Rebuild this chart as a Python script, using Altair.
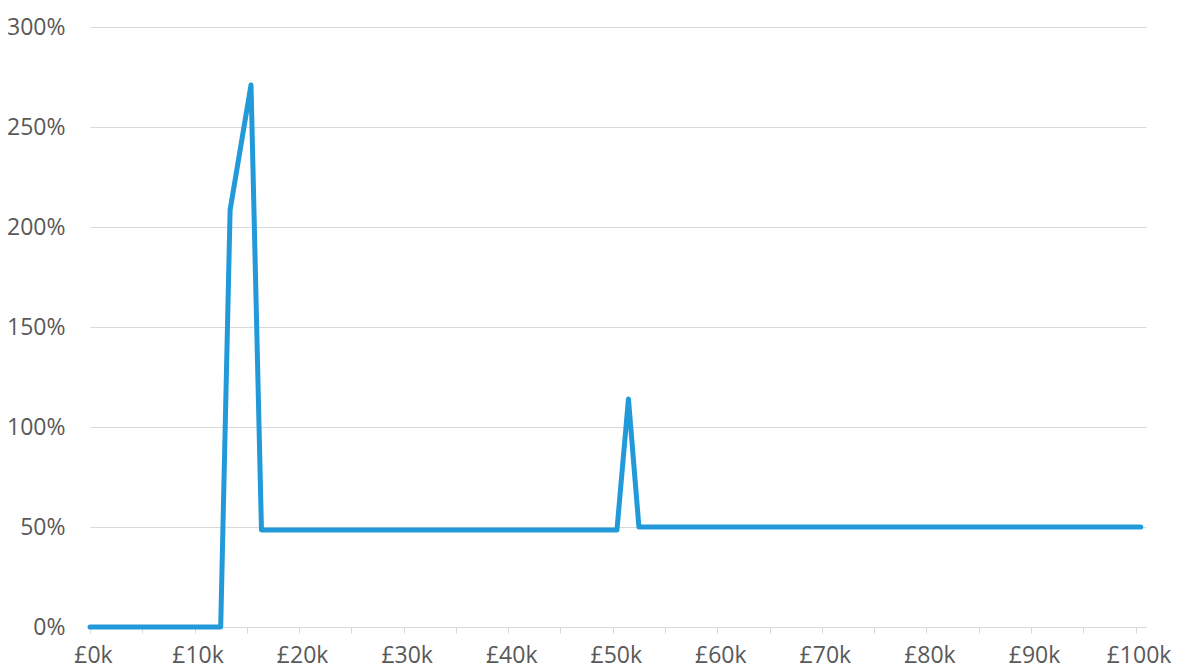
import altair as alt
import pandas as pd

# income (£k) and marginal effective rate (%)
income_k = [0, 12.5, 13.4, 15.4, 16.4, 50.4, 51.5, 52.5, 100.5]
rate_pct = [0, 0, 208.5, 271, 48.5, 48.5, 114, 50, 50]

x_ticks = list(range(0, 101, 5))
y_ticks = [0, 50, 100, 150, 200, 250, 300]

df = pd.DataFrame({"income": income_k, "rate": rate_pct})

FONT = "Open Sans"
TXT = "#595959"

chart = (
    alt.Chart(df)
    .mark_line(color="#2299d8", strokeWidth=5, strokeJoin="round", strokeCap="round")
    .encode(
        x=alt.X(
            "income:Q",
            scale=alt.Scale(domain=[0, 101], nice=False, zero=False),
            axis=alt.Axis(
                values=x_ticks,
                labelExpr="datum.value % 10 == 0 ? '£' + datum.value + 'k' : ''",
                title=None,
                grid=False,
                domainColor="#d9d9d9",
                tickColor="#d9d9d9",
                tickSize=6,
                labelPadding=11,
                labelOffset=3,
                labelFlush=False,
                labelFont=FONT,
                labelFontSize=23,
                labelColor=TXT,
                labelOverlap=False,
            ),
        ),
        y=alt.Y(
            "rate:Q",
            scale=alt.Scale(domain=[0, 300], nice=False),
            axis=alt.Axis(
                values=y_ticks,
                labelExpr="datum.value + '%'",
                title=None,
                domain=False,
                ticks=False,
                gridColor="#d9d9d9",
                gridWidth=1.2,
                labelPadding=25,
                labelFont=FONT,
                labelFontSize=23,
                labelColor=TXT,
            ),
        ),
    )
    .properties(
        width=1056,
        height=600,
        autosize="none",
        background="white",
        padding={"left": 82, "top": 19, "right": 27, "bottom": 41},
    )
    .configure_view(stroke=None)
)

chart.save("out.html", embed_options={"renderer": "svg", "actions": False})
